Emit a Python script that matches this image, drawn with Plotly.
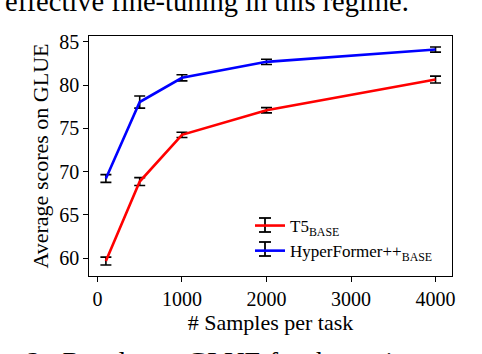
import plotly.graph_objects as go

samples = [100, 500, 1000, 2000, 4000]
t5_scores = [59.65, 68.85, 74.25, 77.1, 80.65]
t5_err = [0.45, 0.45, 0.3, 0.3, 0.4]
hyper_scores = [69.2, 78.05, 80.85, 82.7, 84.12]
hyper_err = [0.45, 0.7, 0.35, 0.3, 0.3]
x_ticks = [0, 1000, 2000, 3000, 4000]
y_ticks = [60, 65, 70, 75, 80, 85]

FONT = "Liberation Serif"

fig = go.Figure()
fig.add_trace(go.Scatter(
    x=samples, y=t5_scores, mode="lines", name="T5<sub>BASE</sub>",
    line=dict(color="#ff0000", width=2.6),
    error_y=dict(type="data", array=t5_err, visible=True, color="black", thickness=1.6, width=5.5),
))
fig.add_trace(go.Scatter(
    x=samples, y=hyper_scores, mode="lines", name="HyperFormer++<sub>BASE</sub>",
    line=dict(color="#0000ff", width=2.6),
    error_y=dict(type="data", array=hyper_err, visible=True, color="black", thickness=1.6, width=5.5),
))

L, R, T, B = 89, 30, 36, 78
W, H = 482, 354
pw, ph = W - L - R, H - T - B

def px(xp):
    return (xp - L) / pw

def py(yp):
    return (H - B - yp) / ph

axis_common = dict(
    showline=True, linecolor="black", linewidth=1.3, mirror=True,
    ticks="outside", ticklen=4.5, tickwidth=1.2, tickcolor="black",
    showgrid=False, zeroline=False, automargin=False,
    tickfont=dict(family=FONT, size=20, color="black"),
)

# legend error-bar glyphs (decoration drawn on top of the legend lines)
shapes = []
for row_y in (225, 249):
    gx = 265
    shapes.append(dict(type="line", xref="paper", yref="paper", x0=px(gx), x1=px(gx),
                       y0=py(row_y - 7), y1=py(row_y + 7), line=dict(color="black", width=1.8)))
    for cy in (row_y - 7, row_y + 7):
        shapes.append(dict(type="line", xref="paper", yref="paper", x0=px(gx - 6), x1=px(gx + 6),
                           y0=py(cy), y1=py(cy), line=dict(color="black", width=1.8)))

fig.update_layout(
    template="none",
    width=W, height=H,
    margin=dict(l=L, r=R, t=T, b=B, autoexpand=False),
    paper_bgcolor="white", plot_bgcolor="white",
    font=dict(family=FONT, color="black"),
    xaxis=dict(range=[-100, 4195], tickvals=x_ticks, ticktext=[str(v) for v in x_ticks],
               title=dict(text="# Samples per task", font=dict(family=FONT, size=22, color="black"), standoff=0),
               **axis_common),
    yaxis=dict(range=[57.92, 85.69], tickvals=y_ticks, ticktext=[str(v) for v in y_ticks],
               title=dict(text="Average scores on GLUE", font=dict(family=FONT, size=22, color="black"), standoff=4),
               **axis_common),
    showlegend=True,
    legend=dict(x=px(250), y=py(208), xanchor="left", yanchor="top",
                bgcolor="rgba(0,0,0,0)", font=dict(family=FONT, size=17, color="black"),
                tracegroupgap=0, itemwidth=30),
    shapes=shapes,
    annotations=[
        dict(text="effective fine-tuning in this regime.", xref="paper", yref="paper",
             x=px(3), y=py(1), xanchor="left", yanchor="middle", showarrow=False,
             font=dict(family=FONT, size=28.5, color="black")),
        dict(text="re 2:  Results on GLUE for the various numb", xref="paper", yref="paper",
             x=px(-4), y=py(361), xanchor="left", yanchor="middle", showarrow=False,
             font=dict(family=FONT, size=28, color="black")),
    ],
)

fig.write_html("out.html", config={"displayModeBar": False},
               post_script="document.body.style.margin='0px';")
